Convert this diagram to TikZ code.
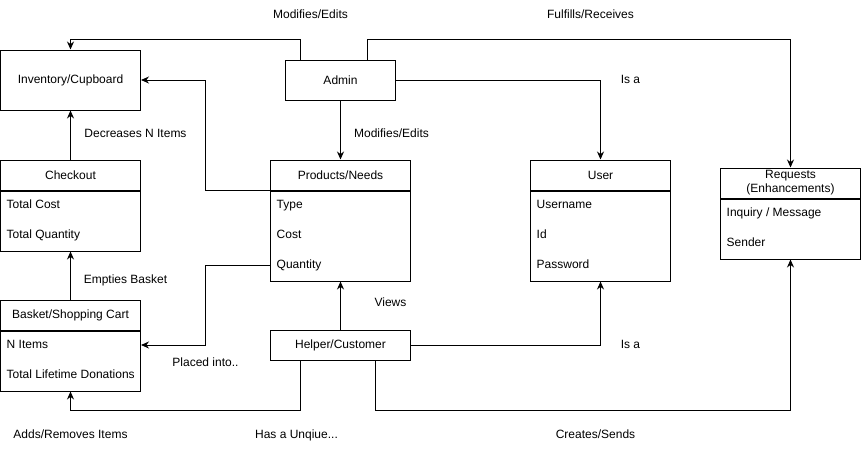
\documentclass[tikz,border=0pt]{standalone}
\usepackage{fontspec}
\setmainfont{Liberation Sans}
\usetikzlibrary{positioning, arrows.meta}

\begin{document}
\begin{tikzpicture}[
    x=1pt, y=-1pt,
    node distance=0pt,
    every node/.style={font=\fontsize{12}{14}\selectfont},
    box/.style={draw, line width=1pt, minimum width=140pt, minimum height=30pt, inner sep=0pt, align=center},
    body/.style={draw, line width=1pt, minimum width=140pt, inner sep=0pt},
    field/.style={anchor=west, inner xsep=6pt, inner ysep=0pt, text height=9pt, text depth=3pt},
    lbl/.style={inner sep=0pt, text height=9pt, text depth=3pt},
    link/.style={line width=1pt, -{Stealth[length=8pt, width=7pt]}}
]
   \useasboundingbox (-0.5,0) rectangle (860.5,451);

   % Entities
   \node[box, minimum height=60pt] (inv) at (70,80) {Inventory/Cupboard};
   \node[box, minimum width=110pt, minimum height=40pt] (admin) at (340,80) {Admin};
   \node[box] (helper) at (340,345) {Helper/Customer};

   \node[box] (checkoutHead) at (70,175) {Checkout};
   \node[body, minimum height=60pt] (checkoutBody) [below=of checkoutHead] {};
   \node[field] (checkoutCost) at (0,205) {Total Cost};
   \node[field] (checkoutQty) at (0,235) {Total Quantity};

   \node[box] (prodHead) at (340,175) {Products/Needs};
   \node[body, minimum height=90pt] (prodBody) [below=of prodHead] {};
   \node[field] (prodType) at (270,205) {Type};
   \node[field] (prodCost) at (270,235) {Cost};
   \node[field] (prodQty) at (270,265) {Quantity};

   \node[box] (userHead) at (600,175) {User};
   \node[body, minimum height=90pt] (userBody) [below=of userHead] {};
   \node[field] (userName) at (530,205) {Username};
   \node[field] (userId) at (530,235) {Id};
   \node[field] (userPass) at (530,265) {Password};

   \node[box] (reqHead) at (790,183) {Requests\\(Enhancements)};
   \node[body, minimum height=60pt] (reqBody) [below=of reqHead] {};
   \node[field] (reqMsg) at (720,213) {Inquiry / Message};
   \node[field] (reqSender) at (720,243) {Sender};

   \node[box] (basketHead) at (70,315) {Basket/Shopping Cart};
   \node[body, minimum height=60pt] (basketBody) [below=of basketHead] {};
   \node[field] (basketItems) at (0,345) {N Items};
   \node[field] (basketTotal) at (0,375) {Total Lifetime Donations};

   % Relations
   \draw[link] ([xshift=-40pt]admin.north) -- ++(0,-20) -| (inv.north);
   \draw[link] ([xshift=27pt]admin.north) -- ++(0,-20) -| (reqHead.north);
   \draw[link] (admin.east) -| (userHead.north);
   \draw[link] (admin.south) -- (prodHead.north);
   \draw[link] (prodHead.south west) -- ++(-65,0) |- (inv.east);
   \draw[link] (prodQty.west) -- ++(-65,0) |- (basketItems.west -| basketBody.east);
   \draw[link] (checkoutHead.north) -- (inv.south);
   \draw[link] (basketHead.north) -- (checkoutBody.south);
   \draw[link] (helper.north) -- (prodBody.south);
   \draw[link] (helper.east) -| (userBody.south);
   \draw[link] ([xshift=-40pt]helper.south) -- ++(0,50) -| (basketBody.south);
   \draw[link] ([xshift=35pt]helper.south) -- ++(0,50) -| (reqBody.south);

   % Relation labels
   \node[lbl] (lblAdminInv) at (310,15) {Modifies/Edits};
   \node[lbl] (lblAdminReq) at (590,15) {Fulfills/Receives};
   \node[lbl] (lblAdminUser) at (630,80) {Is a};
   \node[lbl] (lblAdminProd) at (391,134) {Modifies/Edits};
   \node[lbl] (lblCheckout) at (135,134) {Decreases N Items};
   \node[lbl] (lblBasket) at (125,280) {Empties Basket};
   \node[lbl] (lblPlaced) at (205,363) {Placed into..};
   \node[lbl] (lblViews) at (390,303) {Views};
   \node[lbl] (lblHelperUser) at (630,345) {Is a};
   \node[lbl] (lblAdds) at (70,435) {Adds/Removes Items};
   \node[lbl] (lblUnique) at (296,435) {Has a Unqiue...};
   \node[lbl] (lblCreates) at (595,435) {Creates/Sends};
\end{tikzpicture}
\end{document}
